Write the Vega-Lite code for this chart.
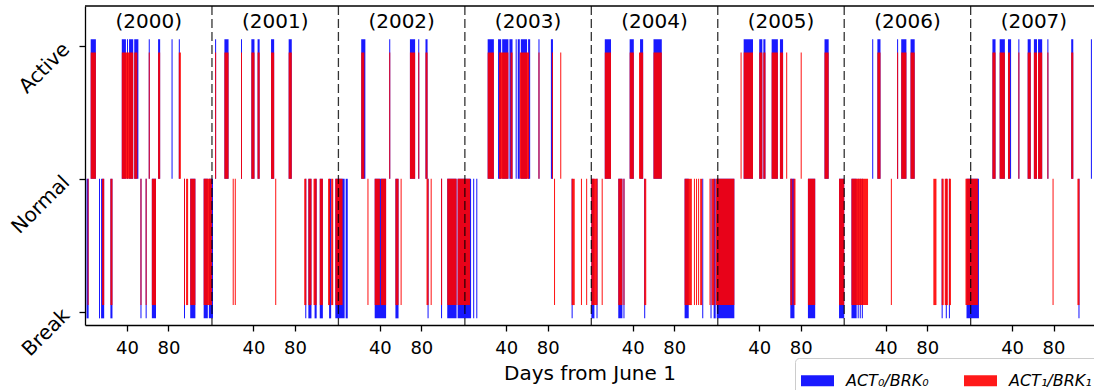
{
  "$schema": "https://vega.github.io/schema/vega-lite/v6.json",
  "width": 1009,
  "height": 319,
  "autosize": {"type": "none"},
  "padding": {"left": 85, "top": 6, "right": 0, "bottom": 65},
  "config": {"font": "DejaVu Sans", "view": {"stroke": null}},
  "datasets": {
    "act0": [{"series":"ACT₀/BRK₀","start":5,"end":10},{"series":"ACT₀/BRK₀","start":35,"end":39},{"series":"ACT₀/BRK₀","start":40,"end":41},{"series":"ACT₀/BRK₀","start":42,"end":46},{"series":"ACT₀/BRK₀","start":47,"end":51},{"series":"ACT₀/BRK₀","start":61,"end":62},{"series":"ACT₀/BRK₀","start":70,"end":72},{"series":"ACT₀/BRK₀","start":83,"end":84},{"series":"ACT₀/BRK₀","start":90,"end":91},{"series":"ACT₀/BRK₀","start":125,"end":126},{"series":"ACT₀/BRK₀","start":134,"end":138},{"series":"ACT₀/BRK₀","start":150,"end":151},{"series":"ACT₀/BRK₀","start":160,"end":163},{"series":"ACT₀/BRK₀","start":166,"end":168},{"series":"ACT₀/BRK₀","start":179,"end":182},{"series":"ACT₀/BRK₀","start":196,"end":199},{"series":"ACT₀/BRK₀","start":266,"end":270},{"series":"ACT₀/BRK₀","start":293,"end":294},{"series":"ACT₀/BRK₀","start":313,"end":318},{"series":"ACT₀/BRK₀","start":321,"end":322},{"series":"ACT₀/BRK₀","start":328,"end":330},{"series":"ACT₀/BRK₀","start":388,"end":394},{"series":"ACT₀/BRK₀","start":398,"end":401},{"series":"ACT₀/BRK₀","start":402,"end":408},{"series":"ACT₀/BRK₀","start":409,"end":412},{"series":"ACT₀/BRK₀","start":415,"end":416},{"series":"ACT₀/BRK₀","start":417,"end":419},{"series":"ACT₀/BRK₀","start":420,"end":426},{"series":"ACT₀/BRK₀","start":427,"end":429},{"series":"ACT₀/BRK₀","start":437,"end":438},{"series":"ACT₀/BRK₀","start":449,"end":451},{"series":"ACT₀/BRK₀","start":501,"end":507},{"series":"ACT₀/BRK₀","start":525,"end":529},{"series":"ACT₀/BRK₀","start":535,"end":538},{"series":"ACT₀/BRK₀","start":548,"end":556},{"series":"ACT₀/BRK₀","start":635,"end":644},{"series":"ACT₀/BRK₀","start":650,"end":653},{"series":"ACT₀/BRK₀","start":654,"end":656},{"series":"ACT₀/BRK₀","start":662,"end":668},{"series":"ACT₀/BRK₀","start":670,"end":673},{"series":"ACT₀/BRK₀","start":713,"end":717},{"series":"ACT₀/BRK₀","start":759,"end":760},{"series":"ACT₀/BRK₀","start":764,"end":767},{"series":"ACT₀/BRK₀","start":783,"end":784},{"series":"ACT₀/BRK₀","start":787,"end":792},{"series":"ACT₀/BRK₀","start":796,"end":800},{"series":"ACT₀/BRK₀","start":875,"end":878},{"series":"ACT₀/BRK₀","start":882,"end":887},{"series":"ACT₀/BRK₀","start":890,"end":893},{"series":"ACT₀/BRK₀","start":900,"end":901},{"series":"ACT₀/BRK₀","start":909,"end":912},{"series":"ACT₀/BRK₀","start":915,"end":918},{"series":"ACT₀/BRK₀","start":919,"end":923},{"series":"ACT₀/BRK₀","start":928,"end":929},{"series":"ACT₀/BRK₀","start":951,"end":953},{"series":"ACT₀/BRK₀","start":970,"end":971}],
    "act1": [{"series":"ACT₁/BRK₁","start":5,"end":10},{"series":"ACT₁/BRK₁","start":35,"end":46},{"series":"ACT₁/BRK₁","start":47,"end":50},{"series":"ACT₁/BRK₁","start":61,"end":62},{"series":"ACT₁/BRK₁","start":70,"end":72},{"series":"ACT₁/BRK₁","start":90,"end":92},{"series":"ACT₁/BRK₁","start":125,"end":126},{"series":"ACT₁/BRK₁","start":134,"end":138},{"series":"ACT₁/BRK₁","start":150,"end":151},{"series":"ACT₁/BRK₁","start":160,"end":163},{"series":"ACT₁/BRK₁","start":166,"end":168},{"series":"ACT₁/BRK₁","start":179,"end":182},{"series":"ACT₁/BRK₁","start":196,"end":199},{"series":"ACT₁/BRK₁","start":266,"end":269},{"series":"ACT₁/BRK₁","start":293,"end":294},{"series":"ACT₁/BRK₁","start":313,"end":318},{"series":"ACT₁/BRK₁","start":321,"end":322},{"series":"ACT₁/BRK₁","start":328,"end":330},{"series":"ACT₁/BRK₁","start":388,"end":394},{"series":"ACT₁/BRK₁","start":399,"end":408},{"series":"ACT₁/BRK₁","start":410,"end":412},{"series":"ACT₁/BRK₁","start":419,"end":428},{"series":"ACT₁/BRK₁","start":437,"end":438},{"series":"ACT₁/BRK₁","start":450,"end":451},{"series":"ACT₁/BRK₁","start":458,"end":459},{"series":"ACT₁/BRK₁","start":501,"end":507},{"series":"ACT₁/BRK₁","start":525,"end":529},{"series":"ACT₁/BRK₁","start":534,"end":538},{"series":"ACT₁/BRK₁","start":548,"end":556},{"series":"ACT₁/BRK₁","start":632,"end":633},{"series":"ACT₁/BRK₁","start":635,"end":644},{"series":"ACT₁/BRK₁","start":650,"end":653},{"series":"ACT₁/BRK₁","start":654,"end":656},{"series":"ACT₁/BRK₁","start":662,"end":668},{"series":"ACT₁/BRK₁","start":670,"end":673},{"series":"ACT₁/BRK₁","start":676,"end":677},{"series":"ACT₁/BRK₁","start":690,"end":691},{"series":"ACT₁/BRK₁","start":713,"end":717},{"series":"ACT₁/BRK₁","start":764,"end":767},{"series":"ACT₁/BRK₁","start":783,"end":784},{"series":"ACT₁/BRK₁","start":787,"end":792},{"series":"ACT₁/BRK₁","start":796,"end":800},{"series":"ACT₁/BRK₁","start":875,"end":878},{"series":"ACT₁/BRK₁","start":882,"end":887},{"series":"ACT₁/BRK₁","start":890,"end":892},{"series":"ACT₁/BRK₁","start":900,"end":901},{"series":"ACT₁/BRK₁","start":909,"end":912},{"series":"ACT₁/BRK₁","start":915,"end":918},{"series":"ACT₁/BRK₁","start":919,"end":923},{"series":"ACT₁/BRK₁","start":928,"end":929},{"series":"ACT₁/BRK₁","start":951,"end":953}],
    "brk0": [{"series":"ACT₀/BRK₀","start":1,"end":3},{"series":"ACT₀/BRK₀","start":13,"end":14},{"series":"ACT₀/BRK₀","start":15,"end":18},{"series":"ACT₀/BRK₀","start":24,"end":26},{"series":"ACT₀/BRK₀","start":53,"end":54},{"series":"ACT₀/BRK₀","start":58,"end":59},{"series":"ACT₀/BRK₀","start":64,"end":68},{"series":"ACT₀/BRK₀","start":95,"end":96},{"series":"ACT₀/BRK₀","start":101,"end":106},{"series":"ACT₀/BRK₀","start":114,"end":118},{"series":"ACT₀/BRK₀","start":119,"end":123},{"series":"ACT₀/BRK₀","start":212,"end":213},{"series":"ACT₀/BRK₀","start":215,"end":218},{"series":"ACT₀/BRK₀","start":221,"end":223},{"series":"ACT₀/BRK₀","start":226,"end":229},{"series":"ACT₀/BRK₀","start":235,"end":237},{"series":"ACT₀/BRK₀","start":241,"end":250},{"series":"ACT₀/BRK₀","start":251,"end":253},{"series":"ACT₀/BRK₀","start":279,"end":290},{"series":"ACT₀/BRK₀","start":299,"end":302},{"series":"ACT₀/BRK₀","start":330,"end":331},{"series":"ACT₀/BRK₀","start":343,"end":344},{"series":"ACT₀/BRK₀","start":349,"end":358},{"series":"ACT₀/BRK₀","start":359,"end":372},{"series":"ACT₀/BRK₀","start":374,"end":375},{"series":"ACT₀/BRK₀","start":377,"end":378},{"series":"ACT₀/BRK₀","start":469,"end":470},{"series":"ACT₀/BRK₀","start":488,"end":491},{"series":"ACT₀/BRK₀","start":493,"end":494},{"series":"ACT₀/BRK₀","start":514,"end":518},{"series":"ACT₀/BRK₀","start":519,"end":520},{"series":"ACT₀/BRK₀","start":539,"end":540},{"series":"ACT₀/BRK₀","start":578,"end":582},{"series":"ACT₀/BRK₀","start":595,"end":596},{"series":"ACT₀/BRK₀","start":603,"end":604},{"series":"ACT₀/BRK₀","start":606,"end":608},{"series":"ACT₀/BRK₀","start":609,"end":626},{"series":"ACT₀/BRK₀","start":680,"end":684},{"series":"ACT₀/BRK₀","start":697,"end":704},{"series":"ACT₀/BRK₀","start":727,"end":732},{"series":"ACT₀/BRK₀","start":739,"end":744},{"series":"ACT₀/BRK₀","start":745,"end":746},{"series":"ACT₀/BRK₀","start":747,"end":748},{"series":"ACT₀/BRK₀","start":749,"end":750},{"series":"ACT₀/BRK₀","start":826,"end":827},{"series":"ACT₀/BRK₀","start":830,"end":831},{"series":"ACT₀/BRK₀","start":833,"end":834},{"series":"ACT₀/BRK₀","start":850,"end":862},{"series":"ACT₀/BRK₀","start":958,"end":959}],
    "brk1": [{"series":"ACT₁/BRK₁","start":2,"end":3},{"series":"ACT₁/BRK₁","start":16,"end":18},{"series":"ACT₁/BRK₁","start":24,"end":26},{"series":"ACT₁/BRK₁","start":53,"end":54},{"series":"ACT₁/BRK₁","start":58,"end":59},{"series":"ACT₁/BRK₁","start":64,"end":68},{"series":"ACT₁/BRK₁","start":95,"end":96},{"series":"ACT₁/BRK₁","start":97,"end":99},{"series":"ACT₁/BRK₁","start":101,"end":106},{"series":"ACT₁/BRK₁","start":114,"end":122},{"series":"ACT₁/BRK₁","start":142,"end":143},{"series":"ACT₁/BRK₁","start":144,"end":145},{"series":"ACT₁/BRK₁","start":183,"end":184},{"series":"ACT₁/BRK₁","start":211,"end":213},{"series":"ACT₁/BRK₁","start":215,"end":218},{"series":"ACT₁/BRK₁","start":220,"end":223},{"series":"ACT₁/BRK₁","start":226,"end":229},{"series":"ACT₁/BRK₁","start":234,"end":236},{"series":"ACT₁/BRK₁","start":237,"end":239},{"series":"ACT₁/BRK₁","start":241,"end":248},{"series":"ACT₁/BRK₁","start":272,"end":273},{"series":"ACT₁/BRK₁","start":279,"end":284},{"series":"ACT₁/BRK₁","start":285,"end":290},{"series":"ACT₁/BRK₁","start":299,"end":302},{"series":"ACT₁/BRK₁","start":304,"end":305},{"series":"ACT₁/BRK₁","start":329,"end":331},{"series":"ACT₁/BRK₁","start":333,"end":334},{"series":"ACT₁/BRK₁","start":343,"end":344},{"series":"ACT₁/BRK₁","start":349,"end":358},{"series":"ACT₁/BRK₁","start":359,"end":371},{"series":"ACT₁/BRK₁","start":452,"end":453},{"series":"ACT₁/BRK₁","start":469,"end":472},{"series":"ACT₁/BRK₁","start":478,"end":479},{"series":"ACT₁/BRK₁","start":483,"end":484},{"series":"ACT₁/BRK₁","start":488,"end":494},{"series":"ACT₁/BRK₁","start":498,"end":499},{"series":"ACT₁/BRK₁","start":514,"end":518},{"series":"ACT₁/BRK₁","start":519,"end":520},{"series":"ACT₁/BRK₁","start":539,"end":541},{"series":"ACT₁/BRK₁","start":578,"end":585},{"series":"ACT₁/BRK₁","start":587,"end":588},{"series":"ACT₁/BRK₁","start":589,"end":590},{"series":"ACT₁/BRK₁","start":591,"end":592},{"series":"ACT₁/BRK₁","start":593,"end":595},{"series":"ACT₁/BRK₁","start":602,"end":603},{"series":"ACT₁/BRK₁","start":604,"end":607},{"series":"ACT₁/BRK₁","start":608,"end":626},{"series":"ACT₁/BRK₁","start":680,"end":682},{"series":"ACT₁/BRK₁","start":683,"end":685},{"series":"ACT₁/BRK₁","start":697,"end":704},{"series":"ACT₁/BRK₁","start":727,"end":732},{"series":"ACT₁/BRK₁","start":739,"end":755},{"series":"ACT₁/BRK₁","start":777,"end":778},{"series":"ACT₁/BRK₁","start":818,"end":821},{"series":"ACT₁/BRK₁","start":826,"end":828},{"series":"ACT₁/BRK₁","start":829,"end":832},{"series":"ACT₁/BRK₁","start":833,"end":835},{"series":"ACT₁/BRK₁","start":849,"end":861},{"series":"ACT₁/BRK₁","start":933,"end":934},{"series":"ACT₁/BRK₁","start":957,"end":959}],
    "years": [
      {"year": "(2000)", "mid": 61}, {"year": "(2001)", "mid": 183}, {"year": "(2002)", "mid": 305}, {"year": "(2003)", "mid": 427},
      {"year": "(2004)", "mid": 549}, {"year": "(2005)", "mid": 671}, {"year": "(2006)", "mid": 793}, {"year": "(2007)", "mid": 915}
    ],
    "bounds": [{"day": 122}, {"day": 244}, {"day": 366}, {"day": 488}, {"day": 610}, {"day": 732}, {"day": 854}]
  },
  "layer": [
    {
      "data": {"name": "act0"},
      "mark": {"type": "rect", "opacity": 0.9},
      "encoding": {
        "x": {"field": "start", "type": "quantitative",
          "scale": {"domain": [-0.5, 973], "nice": false, "zero": false},
          "axis": {"values": [40,80,162,202,284,324,406,446,528,568,650,690,772,812,894,934],
            "labelExpr": "'' + (datum.value % 122)", "title": "Days from June 1", "grid": false,
            "labelFontSize": 18, "titleFontSize": 20, "titleFontWeight": "normal",
            "labelColor": "black", "titleColor": "black", "tickColor": "black", "domainColor": "black",
            "tickSize": 6, "tickWidth": 1.3, "domainWidth": 1.3, "labelPadding": 8, "titlePadding": 6, "labelFlush": false}},
        "x2": {"field": "end"},
        "y": {"datum": 0, "type": "quantitative",
          "scale": {"domain": [-1.1, 1.3], "nice": false, "zero": false},
          "axis": {"values": [-1, 0, 1], "labelExpr": "datum.value == 1 ? 'Active' : (datum.value == 0 ? 'Normal' : 'Break')",
            "labelAngle": -45, "labelAlign": "right", "labelBaseline": "middle", "labelFontSize": 20,
            "title": null, "grid": false, "tickSize": 6, "tickWidth": 1.3, "domainWidth": 1.3,
            "domainColor": "black", "tickColor": "black", "labelColor": "black", "labelPadding": 13}},
        "y2": {"datum": 1.05},
        "color": {"field": "series", "type": "nominal",
          "scale": {"domain": ["ACT₀/BRK₀", "ACT₁/BRK₁"], "range": ["#0000ff", "#ff0000"]},
          "legend": {"title": null, "orient": "none", "legendX": 710, "legendY": 352, "direction": "horizontal",
            "symbolType": "M-1,-0.333H1V0.333H-1Z", "symbolSize": 1089, "symbolOpacity": 0.9, "symbolStrokeWidth": 0,
            "labelFontSize": 16, "labelFontStyle": "italic", "labelColor": "black", "labelOffset": 12,
            "columnPadding": 35, "padding": 6, "strokeColor": "#cccccc", "fillColor": "white", "cornerRadius": 4}}
      }
    },
    {
      "data": {"name": "brk0"},
      "mark": {"type": "rect", "opacity": 0.9},
      "encoding": {
        "x": {"field": "start", "type": "quantitative"},
        "x2": {"field": "end"},
        "y": {"datum": 0, "type": "quantitative"},
        "y2": {"datum": -1.05},
        "color": {"field": "series", "type": "nominal"}
      }
    },
    {
      "data": {"name": "act1"},
      "mark": {"type": "rect", "opacity": 0.9},
      "encoding": {
        "x": {"field": "start", "type": "quantitative"},
        "x2": {"field": "end"},
        "y": {"datum": 0, "type": "quantitative"},
        "y2": {"datum": 0.95},
        "color": {"field": "series", "type": "nominal"}
      }
    },
    {
      "data": {"name": "brk1"},
      "mark": {"type": "rect", "opacity": 0.9},
      "encoding": {
        "x": {"field": "start", "type": "quantitative"},
        "x2": {"field": "end"},
        "y": {"datum": 0, "type": "quantitative"},
        "y2": {"datum": -0.95},
        "color": {"field": "series", "type": "nominal"}
      }
    },
    {
      "data": {"name": "bounds"},
      "mark": {"type": "rule", "color": "black", "strokeWidth": 1.3, "strokeDash": [9, 4], "opacity": 0.8},
      "encoding": {"x": {"field": "day", "type": "quantitative"}}
    },
    {
      "data": {"name": "years"},
      "mark": {"type": "text", "fontSize": 20, "color": "black", "baseline": "middle", "align": "center"},
      "encoding": {
        "x": {"field": "mid", "type": "quantitative"},
        "y": {"datum": 1.18, "type": "quantitative"},
        "text": {"field": "year"}
      }
    },
    {
      "data": {"values": [{"edge": "top"}]},
      "mark": {"type": "rule", "color": "black", "strokeWidth": 1.3},
      "encoding": {"y": {"datum": 1.3, "type": "quantitative"}}
    }
  ]
}
